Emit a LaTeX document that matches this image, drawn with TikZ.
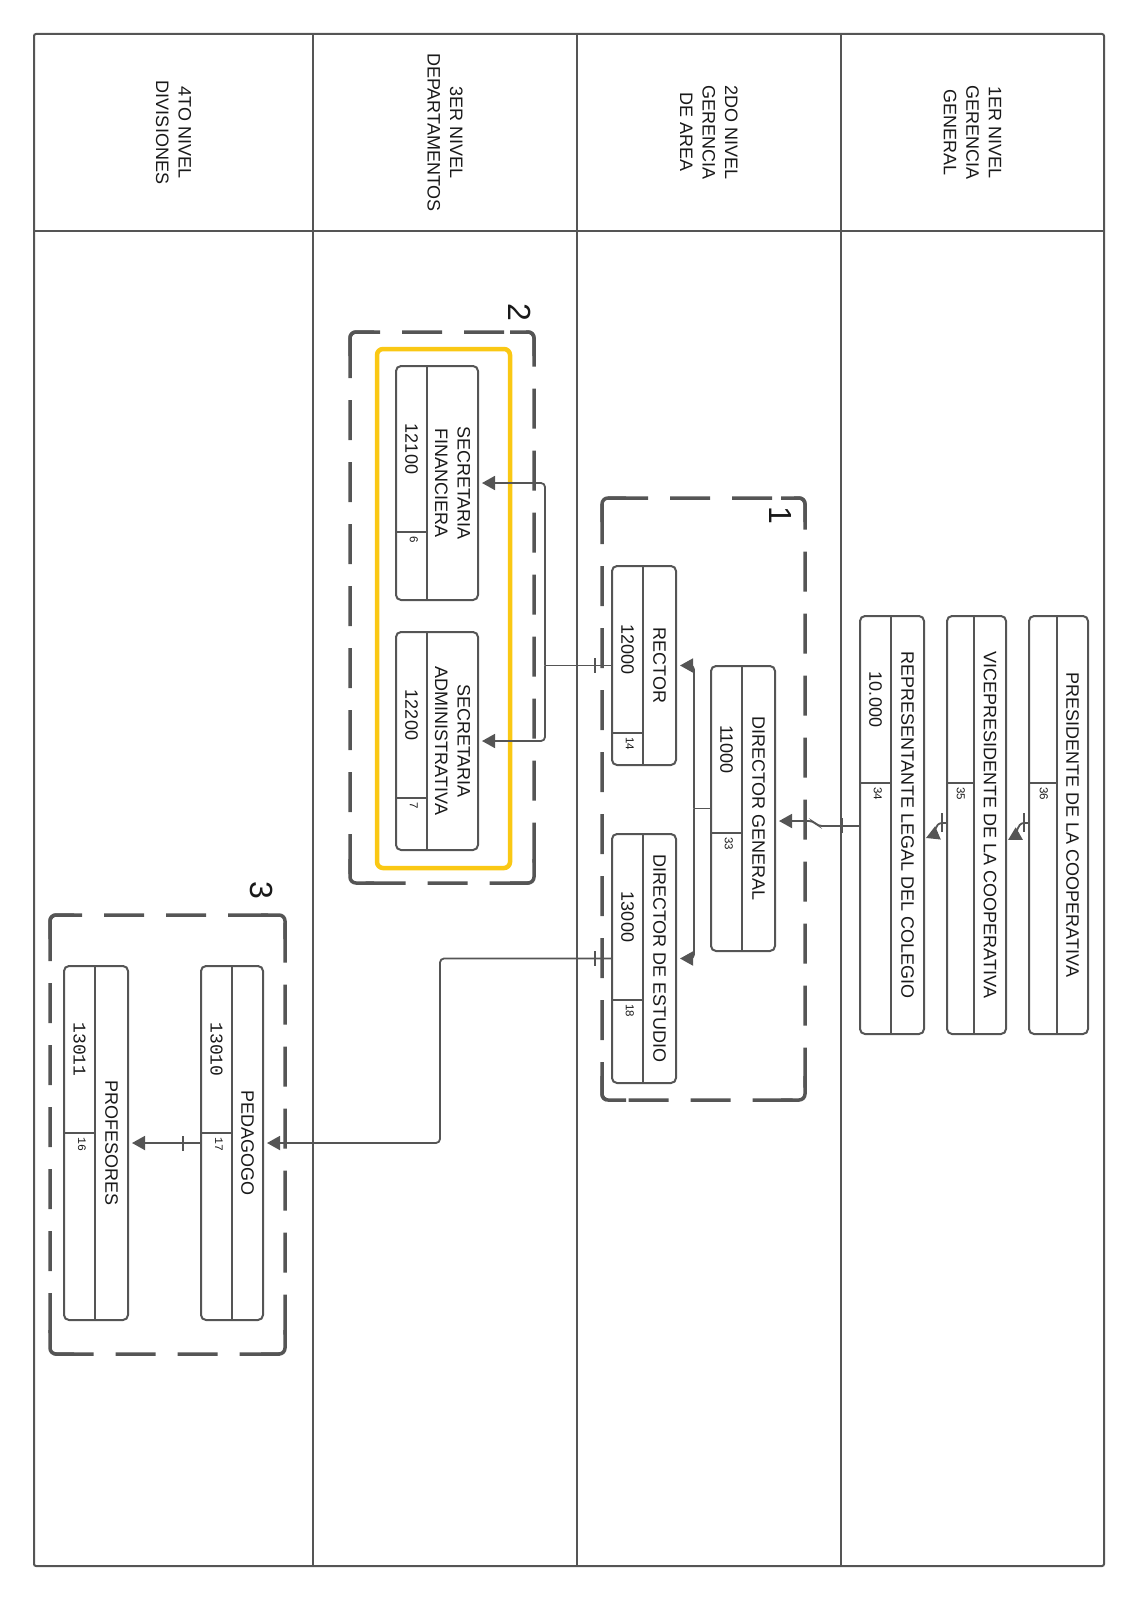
\documentclass[tikz,border=0pt]{standalone}
\usepackage{fontspec}
\setmainfont{Liberation Sans}
\newfontfamily\codefont{Liberation Mono}
\usetikzlibrary{arrows.meta}
\definecolor{linegray}{RGB}{85,85,85}
\definecolor{textdark}{RGB}{25,25,25}
\definecolor{boxgold}{RGB}{250,200,20}

\tikzset{
  lane/.style={linegray, line width=2pt},
  rot/.style={rotate=-90, inner sep=0pt, text=textdark, align=center,
    font=\fontsize{18}{22.5}\selectfont},
  smallnum/.style={rotate=-90, anchor=north west, inner sep=0pt, text=textdark,
    font=\fontsize{11.5}{13}\selectfont},
  orgbox/.style={draw=linegray, line width=2pt, rounded corners=5pt, rotate=-90, inner sep=0pt},
  boxline/.style={linegray, line width=2pt},
  conn/.style={linegray, line width=1.8pt, rounded corners=4pt},
  arr/.style={conn, -{Triangle[length=13pt,width=14pt]}, shorten >=3pt},
  grouping/.style={linegray, line width=3.5pt, dash pattern=on 40pt off 22pt, rounded corners=6pt},
  groupcorner/.style={linegray, line width=3.5pt, rounded corners=6pt},
}

\begin{document}
\begin{tikzpicture}[x=1pt, y=-1pt]
  \useasboundingbox (0,0) rectangle (1138,1600);

  % lanes
  \draw[lane, rounded corners=2pt] (34,34) rectangle (1104,1566);
  \draw[lane] (34,231) -- (1104,231);
  \foreach \x in {313,577,841} \draw[lane] (\x,34) -- (\x,1566);

  \node[rot] (lvl4) at (173.5,132.5) {4TO NIVEL\\DIVISIONES};
  \node[rot] (lvl3) at (445,132.5) {3ER NIVEL\\DEPARTAMENTOS};
  \node[rot] (lvl2) at (709,132.5) {2DO NIVEL\\GERENCIA\\DE AREA};
  \node[rot] (lvl1) at (972.5,132.5) {1ER NIVEL\\GERENCIA\\GENERAL};

  % groups
  \foreach \xa/\ya/\xb/\yb in {602/498/805/1100, 350/332/534/883, 50/915/285/1354} {
    \draw[grouping] (\xa,\ya) rectangle (\xb,\yb);
    \draw[groupcorner] (\xa+24,\ya) -- (\xa,\ya) -- (\xa,\ya+24);
    \draw[groupcorner] (\xb-24,\ya) -- (\xb,\ya) -- (\xb,\ya+24);
    \draw[groupcorner] (\xa+24,\yb) -- (\xa,\yb) -- (\xa,\yb-24);
    \draw[groupcorner] (\xb-24,\yb) -- (\xb,\yb) -- (\xb,\yb-24);
  }
  \draw[boxgold, line width=4.5pt, rounded corners=6pt] (377,349) rectangle (510,868);
  \node[rot, font=\fontsize{32}{32}\selectfont] (grp1) at (780,515) {1};
  \node[rot, font=\fontsize{32}{32}\selectfont] (grp2) at (520,312) {2};
  \node[rot, font=\fontsize{32}{32}\selectfont] (grp3) at (262,890) {3};

  % 1er nivel
  \node[orgbox, minimum width=418pt, minimum height=59pt] (pres) at (1058.5,825) {};
  \draw[boxline] (1057,616) -- (1057,1034);
  \draw[boxline] (1057,783) -- (1029,783);
  \node[rot] (presT) at (1072.5,825) {PRESIDENTE DE LA COOPERATIVA};
  \node[smallnum] (presN) at (1048,787) {36};

  \node[orgbox, minimum width=418pt, minimum height=59pt] (vice) at (976.5,825) {};
  \draw[boxline] (974,616) -- (974,1034);
  \draw[boxline] (974,783) -- (947,783);
  \node[rot] (viceT) at (990,825) {VICEPRESIDENTE DE LA COOPERATIVA};
  \node[smallnum] (viceN) at (965,787) {35};

  \node[orgbox, minimum width=418pt, minimum height=64pt] (rep) at (892,825) {};
  \draw[boxline] (891,616) -- (891,1034);
  \draw[boxline] (891,783) -- (860,783);
  \node[rot] (repT) at (907.5,825) {REPRESENTANTE LEGAL DEL COLEGIO};
  \node[rot] (repC) at (875.5,699.5) {10.000};
  \node[smallnum] (repN) at (882,787) {34};

  % 2do nivel
  \node[orgbox, minimum width=285pt, minimum height=64pt] (dirgen) at (743,808.5) {};
  \draw[boxline] (742,666) -- (742,951);
  \draw[boxline] (742,833) -- (711,833);
  \node[rot] (dirgenT) at (758.5,808.5) {DIRECTOR GENERAL};
  \node[rot] (dirgenC) at (726.5,749.5) {11000};
  \node[smallnum] (dirgenN) at (733,837) {33};

  \node[orgbox, minimum width=199pt, minimum height=64pt] (rector) at (644,665.5) {};
  \draw[boxline] (643,566) -- (643,765);
  \draw[boxline] (643,733) -- (612,733);
  \node[rot] (rectorT) at (659.5,665.5) {RECTOR};
  \node[rot] (rectorC) at (627.5,649.5) {12000};
  \node[smallnum] (rectorN) at (634,737) {14};

  \node[orgbox, minimum width=249pt, minimum height=64pt] (direst) at (644,958.5) {};
  \draw[boxline] (643,834) -- (643,1083);
  \draw[boxline] (643,1000) -- (612,1000);
  \node[rot] (direstT) at (659.5,958.5) {DIRECTOR DE ESTUDIO};
  \node[rot] (direstC) at (627.5,917) {13000};
  \node[smallnum] (direstN) at (634,1004) {18};

  % 3er nivel
  \node[orgbox, minimum width=234pt, minimum height=82pt] (secfin) at (437,483) {};
  \draw[boxline] (427,366) -- (427,600);
  \draw[boxline] (427,532) -- (396,532);
  \node[rot] (secfinT) at (452.5,483) {SECRETARIA\\FINANCIERA};
  \node[rot] (secfinC) at (411.5,449) {12100};
  \node[smallnum] (secfinN) at (418,536) {6};

  \node[orgbox, minimum width=218pt, minimum height=82pt] (secadm) at (437,741) {};
  \draw[boxline] (427,632) -- (427,850);
  \draw[boxline] (427,798) -- (396,798);
  \node[rot] (secadmT) at (452.5,741) {SECRETARIA\\ADMINISTRATIVA};
  \node[rot] (secadmC) at (411.5,715) {12200};
  \node[smallnum] (secadmN) at (418,802) {7};

  % 4to nivel
  \node[orgbox, minimum width=354pt, minimum height=62pt] (ped) at (232,1143) {};
  \draw[boxline] (232,966) -- (232,1320);
  \draw[boxline] (232,1133) -- (201,1133);
  \node[rot] (pedT) at (247.5,1143) {PEDAGOGO};
  \node[rot, font=\codefont\fontsize{18}{22.5}\selectfont] (pedC) at (216.5,1049.5) {13010};
  \node[smallnum, font=\codefont\fontsize{11.5}{13}\selectfont] (pedN) at (223,1137) {17};

  \node[orgbox, minimum width=354pt, minimum height=64pt] (prof) at (96,1143) {};
  \draw[boxline] (95,966) -- (95,1320);
  \draw[boxline] (95,1133) -- (64,1133);
  \node[rot] (profT) at (111.5,1143) {PROFESORES};
  \node[rot, font=\codefont\fontsize{18}{22.5}\selectfont] (profC) at (79.5,1049.5) {13011};
  \node[smallnum, font=\codefont\fontsize{11.5}{13}\selectfont] (profN) at (86,1137) {16};

  % connectors
  \draw[conn] (pres.south |- 0,823) -- (1024,823);
  \draw[conn] (1024,813) -- (1024,832);
  \draw[arr, shorten >=0pt] (1024,823) .. controls (1017,823) and (1015,836) .. (1008,840);
  \draw[conn] (vice.south |- 0,823) -- (942,823);
  \draw[conn] (942,813) -- (942,832);
  \draw[arr, shorten >=0pt] (942,823) .. controls (935,823) and (933,835) .. (926,838);

  \draw[arr] (rep.south |- 0,826) -- (818,826) -- (813,821) -- (dirgen.north |- 0,821);
  \draw[conn] (842,818) -- (842,833);

  \draw[conn] (dirgen.south) -- (694,808.5);
  \draw[arr] (694,808.5) |- (rector.north);
  \draw[arr] (694,808.5) |- (direst.north);

  \draw[conn] (rector.south) -- (545,665.5);
  \draw[conn] (595,658) -- (595,673);
  \draw[arr] (545,665.5) |- (secfin.north);
  \draw[arr] (545,665.5) |- (secadm.north);

  \draw[arr] (direst.south) -- (440,958.5) -- (440,1143) -- (ped.north);
  \draw[conn] (595,951) -- (595,966);

  \draw[arr] (ped.south) -- (prof.north);
  \draw[conn] (183,1136) -- (183,1151);
\end{tikzpicture}
\end{document}
